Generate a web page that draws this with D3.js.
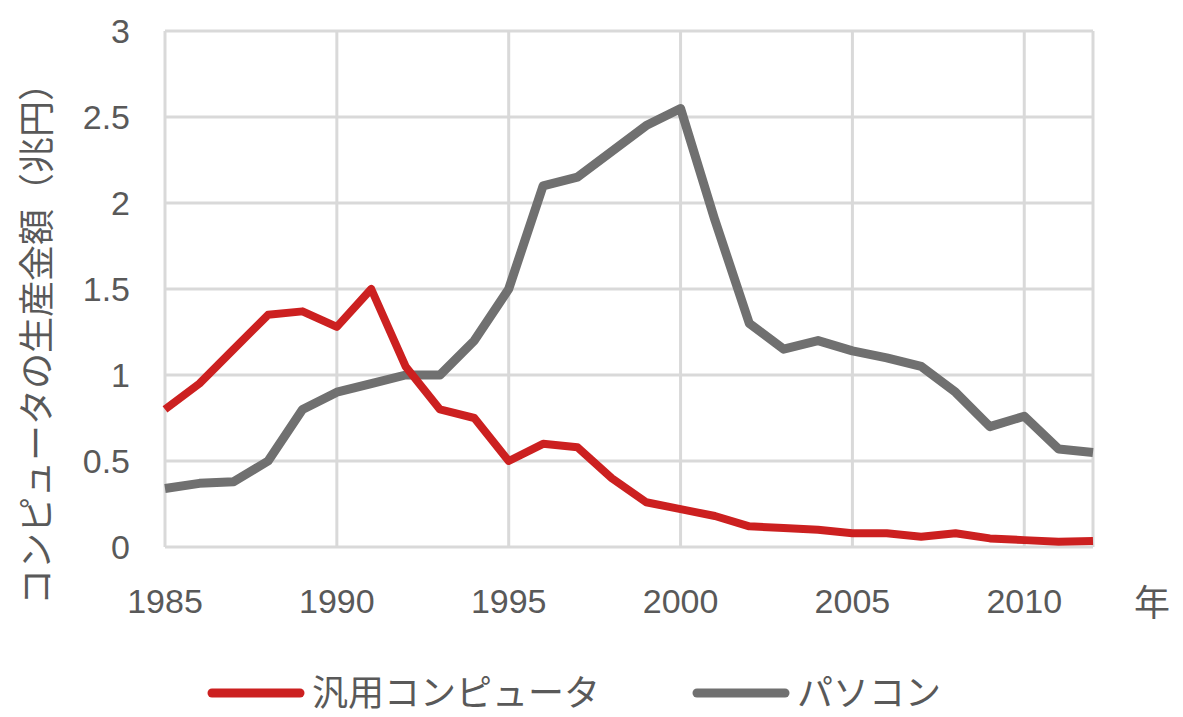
<!DOCTYPE html><html><head><meta charset="utf-8"><script src="https://cdn.jsdelivr.net/npm/d3@7"></script>
<style>body{margin:0;background:#fff}text{font-family:Arial,"Liberation Sans","Noto Sans CJK JP";fill:#595959}</style></head><body><svg id="c" width="1183" height="717"></svg><script>
const years=d3.range(1985,2013);
const mainframe=[0.8,0.95,1.15,1.35,1.37,1.28,1.5,1.05,0.8,0.75,0.5,0.6,0.58,0.4,0.26,0.22,0.18,0.12,0.11,0.1,0.08,0.08,0.06,0.08,0.05,0.04,0.03,0.035];
const pc=[0.34,0.37,0.38,0.5,0.8,0.9,0.95,1.0,1.0,1.2,1.5,2.1,2.15,2.3,2.45,2.55,1.9,1.3,1.15,1.2,1.14,1.1,1.05,0.9,0.7,0.76,0.57,0.55];
const xTicks=[1985,1990,1995,2000,2005,2010];
const yTicks=[0,0.5,1,1.5,2,2.5,3];
const svg=d3.select("#c");
const x=d3.scaleLinear().domain([1985,2012]).range([165,1093]);
const y=d3.scaleLinear().domain([0,3]).range([547,31]);
const g=svg.append("g");
yTicks.forEach(t=>{g.append("line").attr("x1",165).attr("x2",1093).attr("y1",y(t)).attr("y2",y(t)).attr("stroke","#d9d9d9").attr("stroke-width",3);
 g.append("text").attr("x",130).attr("y",y(t)+12).attr("text-anchor","end").attr("font-size",34).text(t);});
xTicks.concat([2012]).forEach(t=>g.append("line").attr("x1",x(t)).attr("x2",x(t)).attr("y1",31).attr("y2",547).attr("stroke","#d9d9d9").attr("stroke-width",3));
xTicks.forEach(t=>g.append("text").attr("x",x(t)).attr("y",613).attr("text-anchor","middle").attr("font-size",34).text(t));
g.append("text").attr("x",1152).attr("y",616).attr("text-anchor","middle").attr("font-size",36).text("年");
g.append("text").attr("transform","translate(50,335) rotate(-90)").attr("text-anchor","middle").attr("font-size",36).text("コンピュータの生産金額（兆円）");
const line=d3.line().x((d,i)=>x(years[i])).y(d=>y(d));
g.append("path").attr("d",line(pc)).attr("fill","none").attr("stroke","#707070").attr("stroke-width",9).attr("stroke-linejoin","round");
g.append("path").attr("d",line(mainframe)).attr("fill","none").attr("stroke","#cc2020").attr("stroke-width",8).attr("stroke-linejoin","round");
[["汎用コンピュータ","#cc2020",212],["パソコン","#707070",697]].forEach(([n,c,lx])=>{
 g.append("line").attr("x1",lx).attr("x2",lx+88).attr("y1",693).attr("y2",693).attr("stroke",c).attr("stroke-width",9).attr("stroke-linecap","round");
 g.append("text").attr("x",lx+100).attr("y",706).attr("font-size",36).text(n);});
</script></body></html>
